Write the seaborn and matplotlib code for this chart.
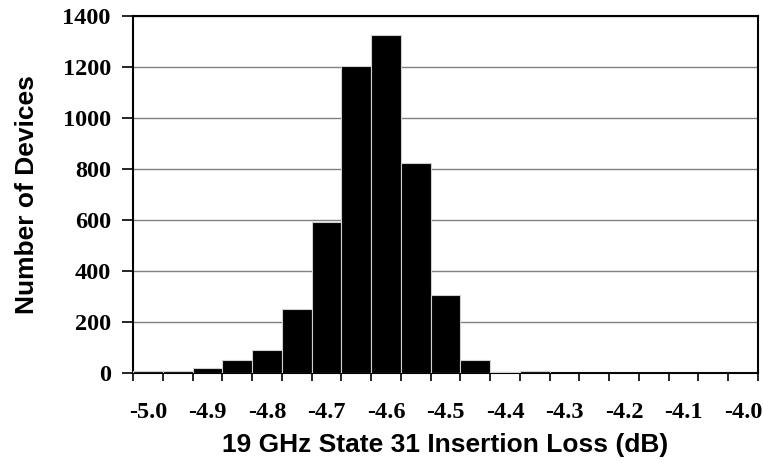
import numpy as np
import pandas as pd
import matplotlib
matplotlib.use("Agg")
import matplotlib.pyplot as plt
import seaborn as sns

# Data: histogram of 19 GHz State 31 insertion loss (category per 0.05 dB)
categories = ["-5.00", "-4.95", "-4.90", "-4.85", "-4.80", "-4.75", "-4.70",
              "-4.65", "-4.60", "-4.55", "-4.50", "-4.45", "-4.40", "-4.35",
              "-4.30", "-4.25", "-4.20", "-4.15", "-4.10", "-4.05", "-4.00"]
counts = [9, 10, 20, 51, 93, 253, 592, 1205, 1327, 825,
          308, 54, 5, 8, 0, 0, 0, 0, 0, 0, 0]
xtick_labels = ["-5.0", "-4.9", "-4.8", "-4.7", "-4.6", "-4.5",
                "-4.4", "-4.3", "-4.2", "-4.1", "-4.0"]
yticks = [0, 200, 400, 600, 800, 1000, 1200, 1400]

df = pd.DataFrame({"loss": categories, "count": counts})

sns.set_style("white")
plt.rcParams["text.color"] = "black"
plt.rcParams["axes.labelcolor"] = "black"
plt.rcParams["xtick.color"] = "black"
plt.rcParams["ytick.color"] = "black"

fig = plt.figure(figsize=(7.63, 4.63), dpi=100)
ax = fig.add_axes([0.1743, 0.1937, 0.8191, 0.7717])

ax.yaxis.grid(True, color="#808080", linewidth=1.0, zorder=0)
ax.set_axisbelow(True)

sns.barplot(data=df, x="loss", y="count", order=categories, ax=ax,
            color="black", saturation=1.0, width=1.0,
            edgecolor="#d0d0d0", linewidth=0.8, zorder=3)

n = len(categories)
ax.set_xlim(-0.5, n - 0.5)
ax.set_ylim(0, 1400)

# labels on every other category; tick marks between categories
ax.set_xticks(list(range(0, n, 2)))
ax.set_xticklabels(xtick_labels)
ax.set_xticks(np.arange(n + 1) - 0.5, minor=True)
ax.set_yticks(yticks)
ax.set_yticklabels([str(v) for v in yticks])

for lab in ax.get_xticklabels() + ax.get_yticklabels():
    lab.set_fontfamily("Liberation Serif")
    lab.set_fontweight("bold")
    lab.set_fontsize(17.5)
    lab.set_color("black")

ax.tick_params(axis="x", which="minor", direction="out", length=6, width=1.2,
               color="black", bottom=True)
ax.tick_params(axis="x", which="major", direction="out", length=6, width=0,
               bottom=True, pad=15)
ax.tick_params(axis="y", direction="out", length=8, width=1.2, color="black",
               left=True, pad=8)

for s in ax.spines.values():
    s.set_visible(True)
    s.set_color("black")
    s.set_linewidth(1.5)

ax.set_xlabel("19 GHz State 31 Insertion Loss (dB)", family="Liberation Sans",
              weight="bold", fontsize=19, color="black")
ax.xaxis.set_label_coords(0.5, -0.168)
ax.xaxis.label.set_va("top")
ax.set_ylabel("Number of Devices", family="Liberation Sans",
              weight="bold", fontsize=19, labelpad=17, color="black")

fig.savefig("out.png", dpi=100, facecolor="white")
